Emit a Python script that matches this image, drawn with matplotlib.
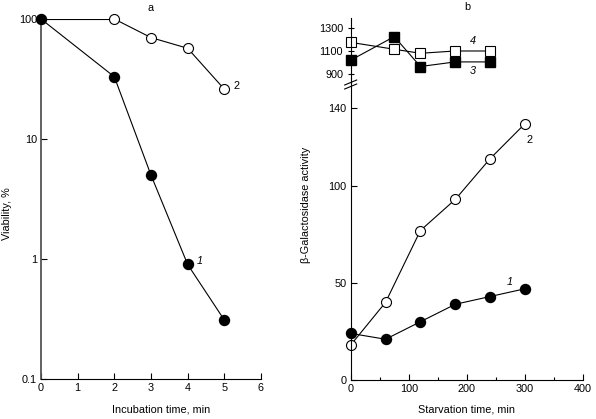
import matplotlib
matplotlib.use("Agg")
import matplotlib.pyplot as plt

plt.rcParams['font.family'] = ['Liberation Sans', 'DejaVu Sans']
plt.rcParams['font.size'] = 7.8

# panel a: viability vs incubation time
inc_time_1 = [0, 2, 3, 4, 5]
viability_1 = [100, 33, 5.0, 0.9, 0.31]
inc_time_2 = [0, 2, 3, 4, 5]
viability_2 = [100, 100, 70, 57, 26]

# panel b: beta-galactosidase activity vs starvation time
starv_time = [0, 60, 120, 180, 240, 300]
activity_1 = [24, 21, 30, 39, 43, 47]
activity_2 = [18, 40, 77, 93, 114, 132]
starv_time_hi = [0, 75, 120, 180, 240]
activity_3 = [1020, 1225, 965, 1005, 1005]
activity_4 = [1175, 1115, 1080, 1100, 1100]

W, H = 596, 419
fig = plt.figure(figsize=(W / 100, H / 100), dpi=100)


def box(x0, y0, x1, y1):
    # pixel box (top-left origin) -> figure fraction
    return [x0 / W, (H - y1) / H, (x1 - x0) / W, (y1 - y0) / H]


filled = dict(color='black', lw=0.8, marker='o', ms=7.2, mfc='black', mec='black')
hollow = dict(color='black', lw=0.8, marker='o', ms=7.2, mfc='white', mec='black', mew=0.8)

# ---- panel a
ax = fig.add_axes(box(41, 19, 261, 379))
ax.plot(inc_time_1, viability_1, zorder=3, clip_on=False, **filled)
ax.plot(inc_time_2[1:], viability_2[1:], zorder=2, clip_on=False, **hollow)
ax.plot(inc_time_2[:2], viability_2[:2], color='black', lw=0.8, zorder=1)
ax.set_yscale('log')
ax.set_xlim(0, 6)
ax.set_ylim(0.1, 100)
ax.set_yticks([0.1, 1, 10, 100])
ax.set_yticklabels(['0.1', '1', '10', '100'])
ax.yaxis.set_minor_locator(matplotlib.ticker.NullLocator())
ax.set_xticks(range(7))
ax.spines[['top', 'right']].set_visible(False)
ax.spines['left'].set_color('#555555')
ax.spines['left'].set_linewidth(1.3)
ax.tick_params(direction='in', length=4, width=0.8, pad=3)
ax.set_xlabel('Incubation time, min')
ax.xaxis.set_label_coords(0.545, -0.072)
ax.set_ylabel('Viability, %')
ax.yaxis.set_label_coords(-0.132, 0.46)
ax.text(5.25, 26, '2')
ax.text(4.25, 0.9, '1', style='italic')
ax.set_title('a', fontsize=7.8, pad=6)

# ---- panel b, lower part
bx = fig.add_axes(box(350.7, 83, 583, 380))
bx.plot(starv_time, activity_2, zorder=2, clip_on=False, **hollow)
bx.plot(starv_time, activity_1, zorder=3, clip_on=False, **filled)
bx.set_xlim(0, 400)
bx.set_ylim(0, 153)
bx.set_yticks([0, 50, 100, 140])
bx.set_xticks([0, 100, 200, 300, 400])
bx.xaxis.set_minor_locator(matplotlib.ticker.MultipleLocator(50))
bx.spines[['top', 'right']].set_visible(False)
bx.tick_params(direction='in', length=4, width=0.8, pad=3)
bx.tick_params(which='minor', direction='in', length=2.5, width=0.8)
bx.set_xlabel('Starvation time, min')
bx.xaxis.set_label_coords(0.5, -0.084)
bx.set_ylabel('\u03b2-Galactosidase activity')
bx.yaxis.set_label_coords(-0.171, 0.59)
bx.text(303, 122, '2')
bx.text(268, 49, '1', style='italic')

# ---- panel b, upper part
ux = fig.add_axes(box(350.7, 18, 583, 78))
ux.plot(starv_time_hi, activity_4, clip_on=False, color='black', lw=0.8,
        marker='s', ms=6.5, mfc='white', mec='black', mew=0.8, zorder=2)
ux.plot(starv_time_hi, activity_3, clip_on=False, color='black', lw=0.8,
        marker='s', ms=6.5, mfc='black', mec='black', zorder=3)
ux.set_xlim(0, 400)
ux.set_ylim(865, 1387)
ux.set_yticks([900, 1100, 1300])
ux.set_xticks([])
ux.spines[['top', 'right', 'bottom']].set_visible(False)
ux.tick_params(direction='inout', length=5, width=0.8, pad=3)
ux.text(205, 1160, '4', style='italic')
ux.text(205, 900, '3', style='italic')
ux.set_title('b', fontsize=7.8, pad=6)

# axis break marks
for dy in (0, 4):
    fig.add_artist(plt.Line2D([(350.7 - 6) / W, (350.7 + 6) / W],
                              [(H - 85 - dy) / H, (H - 80 - dy) / H],
                              color='black', lw=0.8))
fig.add_artist(plt.Line2D([350.7 / W, 350.7 / W], [(H - 83) / H, (H - 78) / H],
                          color='black', lw=0.8))

fig.savefig('out.png', dpi=100)
